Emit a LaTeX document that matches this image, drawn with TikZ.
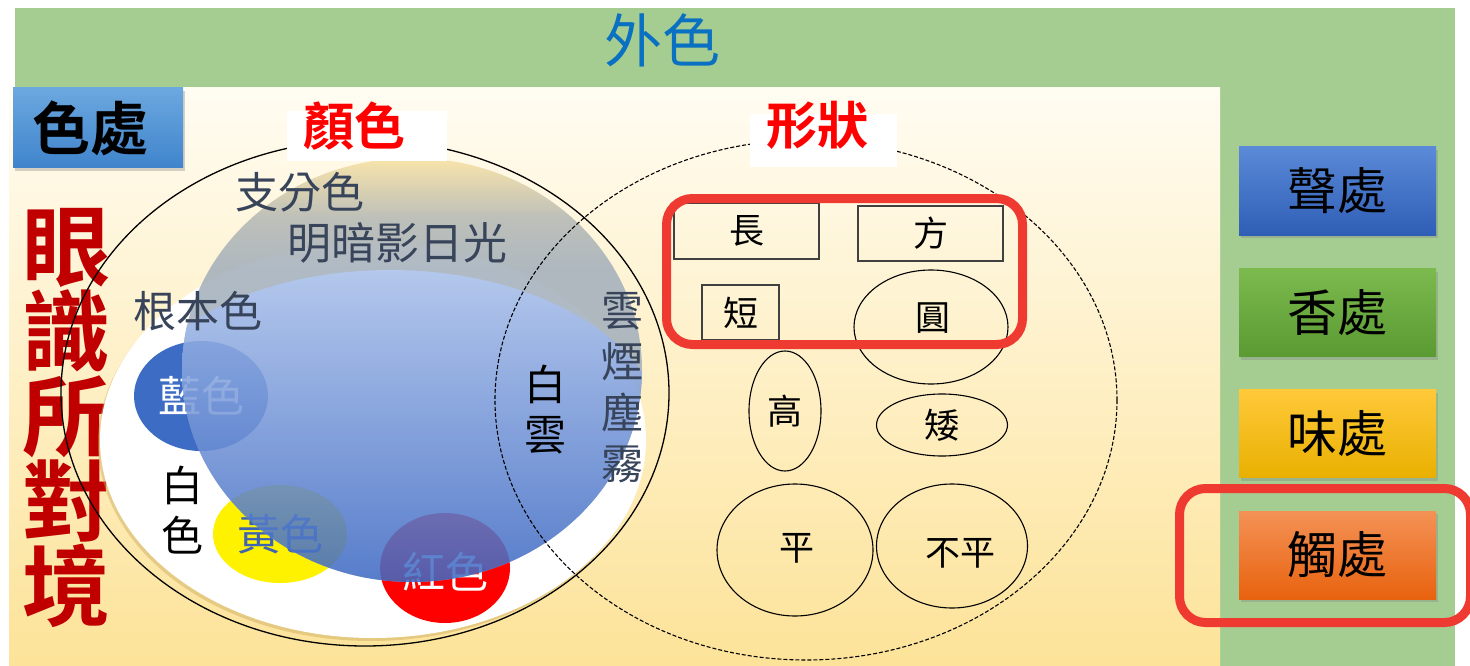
\documentclass[tikz,border=0pt]{standalone}
\usepackage{fontspec}
\setmainfont{Noto Sans CJK TC}[BoldFont={* Bold}]
\usetikzlibrary{shapes.geometric,shadows}
\definecolor{bandgreen}{HTML}{A6CD91}
\definecolor{panelT}{HTML}{FFFCF2}
\definecolor{panelB}{HTML}{FDE399}
\definecolor{waiblue}{HTML}{0A70C2}
\definecolor{seT}{HTML}{6CA8E0}
\definecolor{seB}{HTML}{3F84CC}
\definecolor{darkred}{HTML}{C00000}
\definecolor{lanblue}{HTML}{3D6CC4}
\definecolor{huangtxt}{HTML}{3F64B0}
\definecolor{gT}{HTML}{F9E2A2}
\definecolor{gM}{HTML}{B4B8B4}
\definecolor{gB}{HTML}{A4B0BC}
\definecolor{blueT}{HTML}{A9C0EA}
\definecolor{blueB}{HTML}{3562C0}
\definecolor{darktxt}{HTML}{38445A}
\definecolor{hlred}{HTML}{EE3A30}
\definecolor{shTa}{HTML}{5B8AD8}\definecolor{shBa}{HTML}{2F5EB6}
\definecolor{shTb}{HTML}{7CBA4E}\definecolor{shBb}{HTML}{5A9A32}
\definecolor{shTc}{HTML}{FFC93A}\definecolor{shBc}{HTML}{E9B000}
\definecolor{shTd}{HTML}{F49256}\definecolor{shBd}{HTML}{E8620E}
\definecolor{whshadow}{HTML}{C9A95A}
\pgfdeclareverticalshading{mainsh}{100bp}{color(0bp)=(gB); color(25bp)=(gB); color(62bp)=(gB); color(68bp)=(gM); color(75bp)=(gT); color(100bp)=(gT)}
\begin{document}
\begin{tikzpicture}[x=1pt,y=-1pt,
  fs/.style={font=\fontsize{#1}{#1}\selectfont},
  fsb/.style={font=\fontsize{#1}{#1}\selectfont\bfseries},
  vt/.style 2 args={inner sep=0, align=center, font=\fontsize{#1}{#2}\selectfont},
  vtb/.style 2 args={inner sep=0, align=center, font=\fontsize{#1}{#2}\selectfont\bfseries},
  labelbox/.style={fill=white, inner sep=0},
  shapebox/.style={draw=black!75, line width=1.1, inner sep=0, fs=35},
  ovalbox/.style={ellipse, draw=black, line width=1.1, inner sep=0, fs=35},
  ovaltext/.style={inner sep=0, fs=35},
  colcirc/.style={ellipse, inner sep=0, fs=43},
  sensebox/.style={inner sep=0, minimum width=197, minimum height=88, fs=50,
     drop shadow={opacity=0.35, shadow xshift=2pt, shadow yshift=-3pt}},
  hlbox/.style={draw=hlred, line width=9, rounded corners=26, inner sep=0}]
\useasboundingbox (0,0) rectangle (1470,666);
\fill[white] (0,0) rectangle (1470,666);
% background panels
\fill[bandgreen] (15,8) rectangle (1455,666);
\shade[top color=panelT, bottom color=panelB] (9,88) rectangle (1220,666);
\node[fs=58, text=waiblue, inner sep=0] (waise) at (662,40) {外色};
\node[inner sep=0, minimum width=170, minimum height=80, top color=seT, bottom color=seB,
      drop shadow={opacity=0.35, shadow xshift=2pt, shadow yshift=-3pt}] (sechu) at (98,128) {};
\node[fsb=58, inner sep=0] (sechut) at (90,128) {色處};
\node[vtb={88}{85}, text=darkred] (yanshi) at (66,418) {眼\\識\\所\\對\\境};
% colour circle
\draw[line width=1.3] (365,393) ellipse [x radius=304, y radius=253];
\fill[whshadow, opacity=0.45] (371,443) ellipse [x radius=273, y radius=198];
\fill[white] (373,440) ellipse [x radius=273, y radius=198];
\node[colcirc, fill=lanblue, minimum width=134, minimum height=110, text=white] (lan) at (201,396) {藍色};
\node[colcirc, fill=yellow, minimum width=134, minimum height=98, text=huangtxt] (huang) at (280,534) {黃色};
\node[colcirc, fill=red, minimum width=130, minimum height=110] (hong) at (445,568) {};
\node[inner sep=0, fs=43, text=white] (hongt) at (445,572) {紅色};
\node[vt={42}{50}] (baise) at (182,510) {白\\色};
\begin{scope}[transparency group, opacity=0.87]
  \clip (412,370) ellipse [x radius=230, y radius=212];
  \shade[shading=mainsh] (412,370) ellipse [x radius=230, y radius=212];
  \shade[top color=blueT, bottom color=blueB] (390,440) ellipse [x radius=275, y radius=170];
\end{scope}
\node[fs=43, text=darktxt, inner sep=0] (zhifen) at (300,192) {支分色};
\node[fs=44, text=darktxt, inner sep=0] (mingan) at (397,243) {明暗影日光};
\node[fs=43, text=darktxt, inner sep=0] (genben) at (198,311) {根本色};
\node[vt={42}{50}] (baiyun) at (545,410) {白\\雲};
\node[vt={42}{51}, text=darktxt] (yunyan) at (622,388) {雲\\煙\\塵\\霧};
% shape circle
\draw[dashed, dash pattern=on 4pt off 2pt, line width=1.1] (806,400) ellipse [x radius=311, y radius=260];
\node[shapebox, minimum width=145, minimum height=56] (chang) at (746.5,231) {長};
\node[shapebox, minimum width=145, minimum height=55] (fang) at (930.5,233.5) {方};
\node[shapebox, minimum width=77, minimum height=55] (duan) at (740.5,312.5) {短};
\node[ovalbox, minimum width=154, minimum height=114] (yuan) at (931,327) {};
\node[ovaltext] (yuant) at (933,318) {圓};
\node[ovalbox, minimum width=72, minimum height=120] (gao) at (785,411) {高};
\node[ovalbox, minimum width=131, minimum height=62] (ai) at (942,425) {矮};
\node[ovalbox, minimum width=156, minimum height=132] (ping) at (795,550) {};
\node[ovaltext] (pingt) at (797,548) {平};
\node[ovalbox, minimum width=151, minimum height=124] (buping) at (952,546) {};
\node[ovaltext] (bupingt) at (960,553) {不平};
% title labels
\node[labelbox, minimum width=160, minimum height=50] (yansebox) at (367,136) {};
\node[fsb=51, text=red, inner sep=0] (yanse) at (354,126) {顏色};
\node[labelbox, minimum width=147, minimum height=53] (xingbox) at (823.5,140.5) {};
\node[fsb=51, text=red, inner sep=0] (xing) at (817,125) {形狀};
% other sense fields
\node[sensebox, top color=shTa, bottom color=shBa] (sheng) at (1337.5,191) {聲處};
\node[sensebox, top color=shTb, bottom color=shBb] (xiang) at (1337.5,312.5) {香處};
\node[sensebox, top color=shTc, bottom color=shBc] (wei) at (1337.5,433.5) {味處};
\node[sensebox, top color=shTd, bottom color=shBd] (chu) at (1337.5,555) {觸處};
% highlights
\node[hlbox, minimum width=356, minimum height=146] (hlone) at (844.5,271.5) {};
\node[hlbox, minimum width=291, minimum height=134] (hltwo) at (1325,555.5) {};
\end{tikzpicture}
\end{document}
